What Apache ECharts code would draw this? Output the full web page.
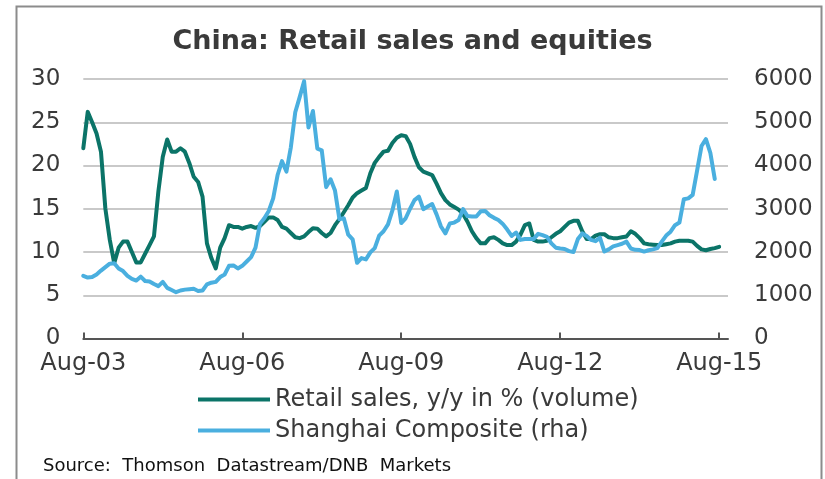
<!DOCTYPE html>
<html>
<head>
<meta charset="utf-8">
<script src="https://cdn.jsdelivr.net/npm/echarts@6/dist/echarts.min.js"></script>
<style>
  html, body { margin: 0; padding: 0; background: #fff; }
  #chart { width: 825px; height: 479px; }
</style>
</head>
<body>
<div id="chart"></div>
<script>
// Monthly observations, Aug-03 onwards
const startYear = 2003;
const startMonth = 7; // August (0-based)
const monthCount = 147; // axis runs through Oct-15
const monthNames = ['Jan','Feb','Mar','Apr','May','Jun','Jul','Aug','Sep','Oct','Nov','Dec'];

const tickLabels = ['Aug-03', 'Aug-06', 'Aug-09', 'Aug-12', 'Aug-15'];

// Retail sales, y/y in % (volume), Aug-03 .. Aug-15
const retailSales = [
  22.0, 26.2, 25.0, 23.7, 21.6, 15.0, 11.4, 8.7, 10.5, 11.2,
  11.2, 10.0, 8.8, 8.8, 9.8, 10.8, 11.8, 17.0, 21.0, 23.0,
  21.6, 21.6, 22.0, 21.6, 20.3, 18.7, 18.1, 16.4, 11.0, 9.3,
  8.1, 10.5, 11.6, 13.1, 12.9, 12.9, 12.7, 12.9, 13.0, 12.8,
  13.0, 13.5, 14.0, 14.0, 13.7, 12.9, 12.7, 12.2, 11.7, 11.6,
  11.8, 12.3, 12.75, 12.7, 12.2, 11.8, 12.2, 13.1, 13.8, 14.6,
  15.4, 16.3, 16.8, 17.1, 17.4, 19.1, 20.3, 21.0, 21.6, 21.7,
  22.6, 23.2, 23.5, 23.4, 22.5, 21.0, 19.8, 19.3, 19.1, 18.9,
  17.9, 16.8, 16.0, 15.5, 15.2, 14.9, 14.4, 13.5, 12.4, 11.6,
  11.0, 11.0, 11.6, 11.7, 11.4, 11.0, 10.8, 10.8, 11.2, 12.0,
  13.1, 13.3, 11.4, 11.2, 11.2, 11.3, 11.7, 12.1, 12.4, 12.9,
  13.4, 13.6, 13.6, 12.4, 11.5, 11.5, 11.9, 12.05, 12.05, 11.7,
  11.6, 11.6, 11.7, 11.8, 12.4, 12.1, 11.6, 11.0, 10.9, 10.85,
  10.8, 10.8, 10.9, 11.0, 11.2, 11.3, 11.3, 11.3, 11.2, 10.7,
  10.3, 10.2, 10.35, 10.45, 10.6
];

// Shanghai Composite, month-end level (right-hand axis), Aug-03 .. Jul-15
const shanghaiComposite = [
  1450, 1410, 1420, 1480, 1570, 1650, 1730, 1740, 1620, 1560,
  1450, 1380, 1340, 1430, 1330, 1320, 1260, 1210, 1310, 1170,
  1120, 1070, 1110, 1130, 1140, 1150, 1100, 1110, 1250, 1290,
  1310, 1420, 1480, 1680, 1690, 1620, 1680, 1780, 1880, 2100,
  2650, 2780, 2950, 3240, 3780, 4100, 3860, 4420, 5230, 5580,
  5950, 4880, 5260, 4390, 4350, 3500, 3680, 3420, 2760, 2780,
  2400, 2290, 1750, 1860, 1830, 1990, 2090, 2380, 2480, 2640,
  2960, 3400, 2670, 2780, 3000, 3200, 3280, 2990, 3050, 3110,
  2870, 2590, 2430, 2660, 2680, 2740, 2990, 2830, 2820, 2820,
  2940, 2950, 2850, 2790, 2740, 2650, 2520, 2370, 2450, 2280,
  2300, 2300, 2300, 2420, 2390, 2350, 2200, 2100, 2080, 2070,
  2020, 2000, 2300, 2430, 2370, 2280, 2250, 2330, 2010, 2060,
  2130, 2160, 2190, 2240, 2080, 2050, 2045, 2010, 2040, 2060,
  2090, 2240, 2380, 2470, 2620, 2680, 3220, 3240, 3320, 3880,
  4450, 4610, 4290, 3690
];

const months = [];
for (let i = 0; i < monthCount; i++) {
  const m = (startMonth + i) % 12;
  const y = startYear + Math.floor((startMonth + i) / 12);
  months.push(monthNames[m] + '-' + String(y % 100).padStart(2, '0'));
}

const GREEN = '#0b7468';
const BLUE = '#4aafdf';
const TEXT = '#3a3a3a';
const FONT = 'DejaVu Sans';

const frame = {
  type: 'rect',
  shape: { x: 16.5, y: 6.5, width: 805, height: 490 },
  style: { fill: 'none', stroke: '#8c8c8c', lineWidth: 2 },
  silent: true
};

const sourceNote = {
  type: 'text',
  left: 43,
  top: 457,
  style: {
    text: 'Source:  Thomson  Datastream/DNB  Markets',
    font: '18px "DejaVu Sans"',
    fill: '#111111'
  },
  silent: true
};

const chart = echarts.init(document.getElementById('chart'), null, { renderer: 'canvas' });

chart.setOption({
  animation: false,
  backgroundColor: '#ffffff',
  title: {
    text: 'China: Retail sales and equities',
    left: 'center',
    top: 23,
    textStyle: { fontFamily: FONT, fontWeight: 'bold', fontSize: 27, color: TEXT }
  },
  graphic: [frame, sourceNote],
  legend: {
    orient: 'vertical',
    left: 193,
    top: 381,
    itemWidth: 72,
    itemHeight: 4,
    itemGap: 4,
    icon: 'rect',
    textStyle: { fontFamily: FONT, fontSize: 24, color: TEXT, lineHeight: 27, padding: [0, 0, 0, 0] },
    data: ['Retail sales, y/y in % (volume)', 'Shanghai Composite (rha)']
  },
  grid: { left: 83.3, right: 97, top: 79, bottom: 140.5, containLabel: false },
  xAxis: {
    type: 'category',
    data: months,
    boundaryGap: false,
    axisLine: { show: true, lineStyle: { color: '#555555', width: 2 } },
    axisTick: {
      show: true, inside: true, length: 6,
      interval: (idx, val) => tickLabels.includes(val),
      lineStyle: { color: '#555555', width: 2 }
    },
    axisLabel: {
      interval: (idx, val) => tickLabels.includes(val),
      fontFamily: FONT, fontSize: 24, color: TEXT, margin: 13
    },
    splitLine: { show: false }
  },
  yAxis: [{
    type: 'value',
    min: 0, max: 30, interval: 5,
    axisLine: { show: false },
    axisTick: { show: false },
    axisLabel: { fontFamily: FONT, fontSize: 23, color: TEXT, margin: 23 },
    splitLine: { show: true, lineStyle: { color: '#c9c9c9', width: 2 } }
  }, {
    type: 'value',
    min: 0, max: 6000, interval: 1000,
    axisLine: { show: false },
    axisTick: { show: false },
    axisLabel: { fontFamily: FONT, fontSize: 23, color: TEXT, margin: 26, formatter: v => String(v) },
    splitLine: { show: false }
  }],
  series: [{
    name: 'Retail sales, y/y in % (volume)',
    type: 'line',
    yAxisIndex: 0,
    data: retailSales,
    showSymbol: false,
    symbol: 'none',
    lineStyle: { color: GREEN, width: 4, join: 'round', cap: 'round' },
    itemStyle: { color: GREEN },
    z: 3
  }, {
    name: 'Shanghai Composite (rha)',
    type: 'line',
    yAxisIndex: 1,
    data: shanghaiComposite,
    showSymbol: false,
    symbol: 'none',
    lineStyle: { color: BLUE, width: 4, join: 'round', cap: 'round' },
    itemStyle: { color: BLUE },
    z: 4
  }]
});
</script>
</body>
</html>
